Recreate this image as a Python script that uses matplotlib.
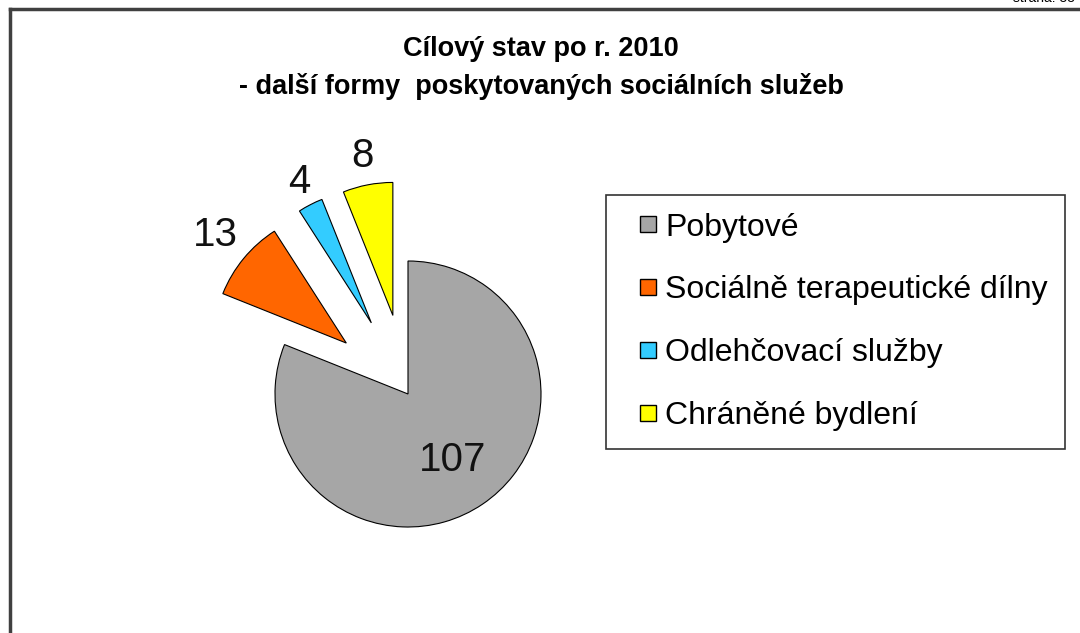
import numpy as np
import matplotlib
matplotlib.use("Agg")
import matplotlib.pyplot as plt
from matplotlib.lines import Line2D

plt.rcParams['font.family'] = ['Liberation Sans', 'DejaVu Sans']

# data
categories = ['Pobytové', 'Sociálně terapeutické dílny', 'Odlehčovací služby', 'Chráněné bydlení']
values = [107, 13, 4, 8]
colors = ['#A6A6A6', '#FF6600', '#33CCFF', '#FFFF00']

W, H = 1080, 633
fig = plt.figure(figsize=(W / 100, H / 100), dpi=100)
ax = fig.add_axes([0, 0, 1, 1])

radius = 133
center = (408, H - 394)
explode = [0, 80, 80, 80]

wedges, _ = ax.pie(values, colors=colors, radius=radius, center=center,
                   startangle=90, counterclock=False, explode=explode,
                   wedgeprops=dict(edgecolor='black', linewidth=0.8),
                   frame=True)
ax.set_xlim(0, W)
ax.set_ylim(0, H)
ax.set_aspect('equal')
ax.axis('off')

# value labels
label_dist = [0.6, 1.28, 1.19, 1.22]
for w, v, d in zip(wedges, values, label_dist):
    mid = np.deg2rad((w.theta1 + w.theta2) / 2)
    cx, cy = w.center
    ax.text(cx + d * w.r * np.cos(mid), cy + d * w.r * np.sin(mid), str(v),
            ha='center', va='center', fontsize=29, color='#111111')

# title
fig.text(541 / W, 1 - 68 / H, 'Cílový stav po r. 2010\n- další formy  poskytovaných sociálních služeb',
         ha='center', va='center', fontsize=19.5, fontweight='bold', linespacing=1.5)

# legend
handles = [Line2D([], [], linestyle='none', marker='s', markersize=11,
                  markerfacecolor=c, markeredgecolor='black', markeredgewidth=1)
           for c in colors]
leg = fig.legend(handles, categories, loc='upper left',
                 bbox_to_anchor=(606 / W, 1 - 195 / H), fontsize=23,
                 frameon=True, fancybox=False, edgecolor='black',
                 labelspacing=1.03, handlelength=1.55, handletextpad=-0.25,
                 borderpad=0.55, borderaxespad=0)
leg.get_frame().set_linewidth(1.2)

# page frame and page number
fig.add_artist(Line2D([10 / W, 10 / W], [0, 1 - 9 / H], color='#404040', linewidth=2.5,
                      transform=fig.transFigure))
fig.add_artist(Line2D([10 / W, 1], [1 - 9 / H, 1 - 9 / H], color='#404040', linewidth=2.5,
                      transform=fig.transFigure))
fig.text(1075 / W, 1 + 2 / H, 'strana: 33', ha='right', va='center', fontsize=10)

fig.savefig('out.png', dpi=100, facecolor='white')
